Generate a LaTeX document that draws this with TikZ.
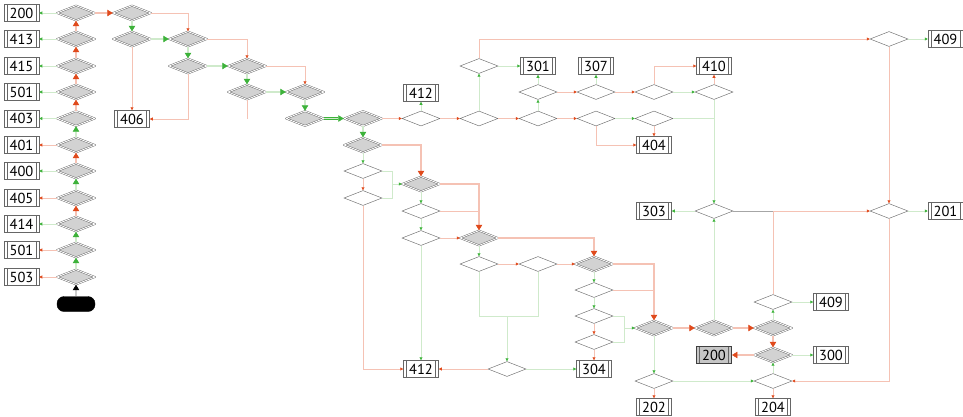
\documentclass[tikz,border=0pt]{standalone}
\usepackage{fontspec}
\setmainfont{PT Sans}
\usetikzlibrary{shapes.geometric,arrows.meta,calc}
\definecolor{rd}{HTML}{E04A1C}
\definecolor{rdl}{HTML}{F5C2B4}
\definecolor{gn}{HTML}{3DB23A}
\definecolor{gnl}{HTML}{CFEACB}
\tikzset{
 shd/.style={diamond, draw=black!65, double=white, double distance=0.9pt, line width=0.4pt, fill=gray!35, minimum width=38pt, minimum height=15pt, inner sep=0pt, line join=round},
 wht/.style={diamond, draw=gray!85!black, line width=0.45pt, fill=white, minimum width=38pt, minimum height=15pt, inner sep=0pt},
 res/.style={rectangle, draw=gray!80!black, line width=0.5pt, fill=white, minimum width=35pt, minimum height=17pt, inner sep=0pt, font=\fontsize{14.5}{14.5}\selectfont,
   path picture={\draw[gray!80!black, line width=0.5pt] ([xshift=3pt]path picture bounding box.north west) -- ([xshift=3pt]path picture bounding box.south west) ([xshift=-3pt]path picture bounding box.north east) -- ([xshift=-3pt]path picture bounding box.south east);}},
 resdark/.style={res, fill=gray!45, draw=black!75, line width=0.9pt},
 startbox/.style={rectangle, rounded corners=7pt, fill=black, draw=black, minimum width=38pt, minimum height=15pt, inner sep=0pt},
 rt/.style={draw=rdl, line width=0.6pt, -{Triangle[length=3pt,width=3pt,color=rd]}},
 gt/.style={draw=gnl, line width=0.6pt, -{Triangle[length=3pt,width=3pt,color=gn]}},
 rl/.style={draw=rdl, line width=0.6pt},
 gl/.style={draw=gnl, line width=0.6pt},
 rm/.style={draw=rd, double=rdl, double distance=1.5pt, line width=0.55pt, -{Triangle[length=5.5pt,width=6.5pt]}},
 gm/.style={draw=gn, double=gnl, double distance=1.5pt, line width=0.55pt, -{Triangle[length=5.5pt,width=6.5pt]}},
 km/.style={draw=black, double=gray!40, double distance=1.5pt, line width=0.55pt, -{Triangle[length=5.5pt,width=6.5pt]}}
}
\begin{document}
\begin{tikzpicture}[x=1pt,y=-1pt]
\useasboundingbox (0,0) rectangle (963,416);
% left column
\node[shd] (L1) at (76,13) {};
\node[shd] (L2) at (76,39) {};
\node[shd] (L3) at (76,66) {};
\node[shd] (L4) at (76,92) {};
\node[shd] (L5) at (76,118.5) {};
\node[shd] (L6) at (76,145) {};
\node[shd] (L7) at (76,171) {};
\node[shd] (L8) at (76,198) {};
\node[shd] (L9) at (76,224) {};
\node[shd] (L10) at (76,250) {};
\node[shd] (L11) at (76,277) {};
\node[startbox] (S) at (76,304) {};
\node[res] (B1) at (21.5,13) {200};
\node[res] (B2) at (21.5,39) {413};
\node[res] (B3) at (21.5,66) {415};
\node[res] (B4) at (21.5,92) {501};
\node[res] (B5) at (21.5,118.5) {403};
\node[res] (B6) at (21.5,145) {401};
\node[res] (B7) at (21.5,171) {400};
\node[res] (B8) at (21.5,198) {405};
\node[res] (B9) at (21.5,224) {414};
\node[res] (B10) at (21.5,250) {501};
\node[res] (B11) at (21.5,277) {503};
% top staircase
\node[shd] (T1) at (132,13) {};
\node[shd] (T2) at (132,39) {};
\node[shd] (T3) at (188,39) {};
\node[shd] (T4) at (188,66) {};
\node[shd] (T5) at (247,66) {};
\node[shd] (T6) at (247,92) {};
\node[shd] (T7) at (305,92) {};
\node[shd] (T8) at (305,118.5) {};
\node[shd] (T9) at (363,118.5) {};
\node[shd] (T10) at (363,145) {};
\node[res] (R406) at (132,119) {406};
% top right
\node[wht] (W1) at (421,118.5) {};
\node[res] (A412) at (421,93) {412};
\node[wht] (W2) at (479,118.5) {};
\node[wht] (W3) at (479,66) {};
\node[res] (A301) at (538,66) {301};
\node[wht] (W4) at (538,118.5) {};
\node[wht] (W5) at (538,92) {};
\node[wht] (W6) at (596,92) {};
\node[res] (A307) at (596,66) {307};
\node[wht] (W7) at (654,92) {};
\node[res] (A410) at (714,66) {410};
\node[wht] (W8) at (714,92) {};
\node[wht] (W10) at (596,118.5) {};
\node[wht] (W11) at (654,118.5) {};
\node[res] (A404) at (654,145) {404};
\node[wht] (W9) at (889,39) {};
\node[res] (A409) at (945.5,39) {409};
\node[wht] (W12) at (714,211) {};
\node[res] (A303) at (654,211) {303};
\node[wht] (W13) at (889,211) {};
\node[res] (A201) at (945.5,211) {201};
% middle
\node[shd] (M1) at (421,184) {};
\node[shd] (M2) at (479,238) {};
\node[shd] (M3) at (594,264) {};
\node[shd] (M4) at (654,328) {};
\node[shd] (M5) at (714,328) {};
\node[shd] (M6) at (773,328) {};
\node[shd] (M7) at (773,355) {};
\node[wht] (W14) at (363,171) {};
\node[wht] (W15) at (363,198) {};
\node[wht] (W16) at (421,211) {};
\node[wht] (W17) at (421,238) {};
\node[wht] (W18) at (479,264) {};
\node[wht] (W19) at (538,264) {};
\node[wht] (W20) at (507,369) {};
\node[wht] (W21) at (594,290) {};
\node[wht] (W22) at (594,316) {};
\node[wht] (W23) at (594,342) {};
\node[res] (A412b) at (421,369) {412};
\node[res] (A304) at (594,369) {304};
\node[wht] (Z3) at (773,302) {};
\node[res] (A409b) at (831,302) {409};
\node[res] (A300) at (831,355) {300};
\node[resdark] (A200) at (714,355) {200};
\node[wht] (Z6) at (654,381) {};
\node[wht] (Z5) at (773,381) {};
\node[res] (A202) at (654,407) {202};
\node[res] (A204) at (773,407) {204};
% left connectors
\draw[gt] (L1.west) -- (B1.east);
\draw[gt] (L2.west) -- (B2.east);
\draw[gt] (L3.west) -- (B3.east);
\draw[gt] (L4.west) -- (B4.east);
\draw[gt] (L5.west) -- (B5.east);
\draw[rt] (L6.west) -- (B6.east);
\draw[gt] (L7.west) -- (B7.east);
\draw[rt] (L8.west) -- (B8.east);
\draw[gt] (L9.west) -- (B9.east);
\draw[rt] (L10.west) -- (B10.east);
\draw[rt] (L11.west) -- (B11.east);
\draw[km] (S.north) -- (L11.south);
\draw[gm] (L11.north) -- (L10.south);
\draw[gm] (L10.north) -- (L9.south);
\draw[rm] (L9.north) -- (L8.south);
\draw[gm] (L8.north) -- (L7.south);
\draw[rm] (L7.north) -- (L6.south);
\draw[gm] (L6.north) -- (L5.south);
\draw[rm] (L5.north) -- (L4.south);
\draw[rm] (L4.north) -- (L3.south);
\draw[rm] (L3.north) -- (L2.south);
\draw[rm] (L2.north) -- (L1.south);
\draw[rm] (L1.east) -- (T1.west);
% staircase connectors
\draw[gm] (T1.south) -- (T2.north);
\draw[rt] (T1.east) -| (T3.north);
\draw[gm] (T2.east) -- (T3.west);
\draw[rt] (T2.south) -- (R406.north);
\draw[gm] (T3.south) -- (T4.north);
\draw[rt] (T3.east) -| (T5.north);
\draw[gm] (T4.east) -- (T5.west);
\draw[rt] (T4.south) |- (R406.east);
\draw[rl] (T6.south) -- (T6.south |- R406.east);
\draw[gm] (T5.south) -- (T6.north);
\draw[rt] (T5.east) -| (T7.north);
\draw[gm] (T6.east) -- (T7.west);
\draw[gm] (T7.south) -- (T8.north);
\draw[gm] (T8.east) -- (T9.west);
\draw[gm] (T9.south) -- (T10.north);
\draw[rt] (T9.east) -- (W1.west);
\draw[rm] (T10.east) -| (M1.north);
% top right connectors
\draw[gt] (W1.north) -- (A412.south);
\draw[rt] (W1.east) -- (W2.west);
\draw[gt] (W2.north) -- (W3.south);
\draw[rt] (W3.north) |- (W9.west);
\draw[gt] (W3.east) -- (A301.west);
\draw[rt] (W2.east) -- (W4.west);
\draw[gt] (W4.north) -- (W5.south);
\draw[gt] (W5.north) -- (A301.south);
\draw[rt] (W5.east) -- (W6.west);
\draw[gt] (W6.north) -- (A307.south);
\draw[rt] (W6.east) -- (W7.west);
\draw[rt] (W7.north) |- (A410.west);
\draw[gt] (W7.east) -- (W8.west);
\draw[rt] (W8.north) -- (A410.south);
\draw[gt] (W8.south) -- (W12.north);
\draw[rt] (W4.east) -- (W10.west);
\draw[gt] (W10.east) -- (W11.west);
\draw[rt] (W10.south) |- (A404.west);
\draw[rt] (W11.south) -- (A404.north);
\draw[gl] (W11.east) -- (W11.east -| W8.south);
\draw[gt] (W9.east) -- (A409.west);
\draw[rt] (W9.south) -- (W13.north);
\draw[gt] (W12.west) -- (A303.east);
\draw[gt] (W13.east) -- (A201.west);
\draw[gray!70, line width=0.6pt] (W12.east) -- (W12.east -| Z3.north);
\draw[rt] (Z3.north) |- (W13.west);
\draw[rt] (W13.south) |- (Z5.east);
% middle connectors
\draw[rm] (M1.east) -| (M2.north);
\draw[rm] (M2.east) -| (M3.north);
\draw[rm] (M3.east) -| (M4.north);
\draw[rm] (M4.east) -- (M5.west);
\draw[rm] (M5.east) -- (M6.west);
\draw[rm] (M6.south) -- (M7.north);
\draw[rm] (M7.west) -- (A200.east);
\draw[gt] (T10.south) -- (W14.north);
\draw[rt] (W14.south) -- (W15.north);
\coordinate (J1) at (392,184);
\draw[gl] (W14.east) -| (J1);
\draw[gl] (W15.east) -| (J1);
\draw[gt] (J1) -- (M1.west);
\draw[rt] (W15.south) |- (A412b.west);
\draw[gt] (M1.south) -- (W16.north);
\draw[rl] (W16.east) -- (W16.east -| M2.north);
\draw[gt] (W16.south) -- (W17.north);
\draw[rt] (W17.east) -- (M2.west);
\draw[gt] (W17.south) -- (A412b.north);
\draw[gt] (M2.south) -- (W18.north);
\draw[rt] (W18.east) -- (W19.west);
\draw[rt] (W19.east) -- (M3.west);
\coordinate (J2) at (507,316);
\draw[gl] (W18.south) |- (J2);
\draw[gl] (W19.south) |- (J2);
\draw[gt] (J2) -- (W20.north);
\draw[rt] (W20.west) -- (A412b.east);
\draw[gt] (W20.east) -- (A304.west);
\draw[gt] (M3.south) -- (W21.north);
\draw[rl] (W21.east) -- (W21.east -| M4.north);
\draw[gt] (W21.south) -- (W22.north);
\draw[rt] (W22.south) -- (W23.north);
\draw[rt] (W23.south) -- (A304.north);
\coordinate (J3) at (624,328);
\draw[gl] (W22.east) -| (J3);
\draw[gl] (W23.east) -| (J3);
\draw[gt] (J3) -- (M4.west);
\draw[gt] (M4.south) -- (Z6.north);
\draw[rt] (Z6.south) -- (A202.north);
\draw[gt] (Z6.east) -- (Z5.west);
\draw[gt] (Z5.north) -- (M7.south);
\draw[rt] (Z5.south) -- (A204.north);
\draw[gt] (M5.north) -- (W12.south);
\draw[gt] (M6.north) -- (Z3.south);
\draw[gt] (Z3.east) -- (A409b.west);
\draw[gt] (M7.east) -- (A300.west);
\end{tikzpicture}
\end{document}
